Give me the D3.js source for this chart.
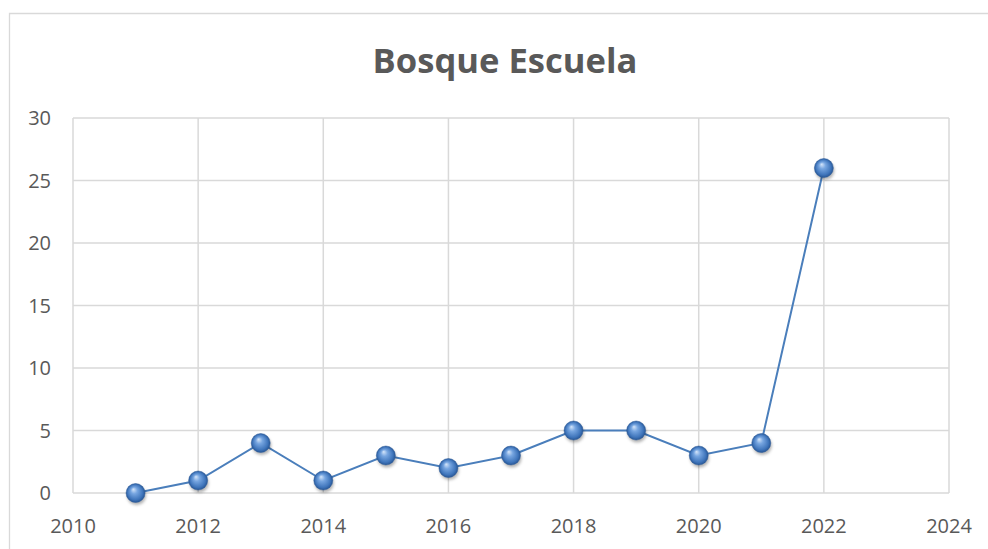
<!DOCTYPE html>
<html>
<head>
<meta charset="utf-8">
<script src="https://cdn.jsdelivr.net/npm/d3@7"></script>
<style>
  html, body { margin: 0; padding: 0; background: #fff; }
  svg { display: block; }
</style>
</head>
<body>
<div id="chart"></div>
<script>
// values
const years = [2011, 2012, 2013, 2014, 2015, 2016, 2017, 2018, 2019, 2020, 2021, 2022];
const counts = [0, 1, 4, 1, 3, 2, 3, 5, 5, 3, 4, 26];
const xTicks = [2010, 2012, 2014, 2016, 2018, 2020, 2022, 2024];
const yTicks = [0, 5, 10, 15, 20, 25, 30];
const title = 'Bosque Escuela';

const width = 988, height = 549;
const margin = { top: 118, right: 39, bottom: 56, left: 73 };
const innerWidth = width - margin.left - margin.right;
const innerHeight = height - margin.top - margin.bottom;

const data = years.map((y, i) => ({ year: y, value: counts[i] }));

const svg = d3.select('#chart')
	.append('svg')
	.attr('width', width)
	.attr('height', height);

// outer chart frame (only top and left edges are inside the window)
svg.append('path')
	.attr('d', 'M9.5,' + height + 'V13.5H' + width)
	.attr('fill', 'none')
	.attr('stroke', '#d9d9d9')
	.attr('stroke-width', 1.3);

const defs = svg.append('defs');
const grad = defs.append('radialGradient')
	.attr('id', 'ball')
	.attr('cx', '50%').attr('cy', '50%').attr('r', '50%')
	.attr('fx', '38%').attr('fy', '30%');
grad.append('stop').attr('offset', '0%').attr('stop-color', '#d6e6fa');
grad.append('stop').attr('offset', '35%').attr('stop-color', '#76a5e0');
grad.append('stop').attr('offset', '80%').attr('stop-color', '#3f75bb');
grad.append('stop').attr('offset', '100%').attr('stop-color', '#285694');

const shadow = defs.append('filter').attr('id', 'shadow')
	.attr('x', '-50%').attr('y', '-50%').attr('width', '200%').attr('height', '200%');
shadow.append('feGaussianBlur').attr('stdDeviation', 1.6);

svg.append('text')
	.attr('x', 505)
	.attr('y', 73)
	.attr('text-anchor', 'middle')
	.attr('font-family', 'Open Sans, sans-serif')
	.attr('font-weight', 'bold')
	.attr('font-size', 34.6)
	.attr('fill', '#595959')
	.text(title);

const g = svg.append('g')
	.attr('transform', 'translate(' + margin.left + ',' + margin.top + ')');

const x = d3.scaleLinear().domain([2010, 2024]).range([0, innerWidth]);
const y = d3.scaleLinear().domain([0, 30]).range([innerHeight, 0]);

// grid
g.append('g')
	.selectAll('line')
	.data(xTicks)
	.enter()
	.append('line')
	.attr('x1', d => x(d)).attr('x2', d => x(d))
	.attr('y1', 0).attr('y2', innerHeight)
	.attr('stroke', '#d9d9d9')
	.attr('stroke-width', 1.5);

g.append('g')
	.selectAll('line')
	.data(yTicks)
	.enter()
	.append('line')
	.attr('x1', 0).attr('x2', innerWidth)
	.attr('y1', d => y(d)).attr('y2', d => y(d))
	.attr('stroke', '#d9d9d9')
	.attr('stroke-width', 1.5);

// tick labels
g.append('g')
	.selectAll('text')
	.data(xTicks)
	.enter()
	.append('text')
	.attr('x', d => x(d))
	.attr('y', innerHeight + 40)
	.attr('text-anchor', 'middle')
	.attr('font-family', 'Open Sans, sans-serif')
	.attr('font-size', 20)
	.attr('fill', '#595959')
	.text(d => d);

g.append('g')
	.selectAll('text')
	.data(yTicks)
	.enter()
	.append('text')
	.attr('x', -22)
	.attr('y', d => y(d) + 7)
	.attr('text-anchor', 'end')
	.attr('font-family', 'Open Sans, sans-serif')
	.attr('font-size', 20)
	.attr('fill', '#595959')
	.text(d => d);

// series line
const line = d3.line()
	.x(d => x(d.year))
	.y(d => y(d.value));

g.append('path')
	.datum(data)
	.attr('fill', 'none')
	.attr('stroke', '#4a7ebb')
	.attr('stroke-width', 2)
	.attr('d', line);

// marker shadows
g.selectAll('.shadow')
	.data(data)
	.enter()
	.append('circle')
	.attr('class', 'shadow')
	.attr('cx', d => x(d.year) + 1)
	.attr('cy', d => y(d.value) + 2.5)
	.attr('r', 9.5)
	.attr('fill', 'rgba(0,0,0,0.3)')
	.attr('filter', 'url(#shadow)');

g.selectAll('.dot')
	.data(data)
	.enter()
	.append('circle')
	.attr('class', 'dot')
	.attr('cx', d => x(d.year))
	.attr('cy', d => y(d.value))
	.attr('r', 9.5)
	.attr('fill', 'url(#ball)')
	.attr('stroke', '#2f5f9e')
	.attr('stroke-width', 0.5);
</script>
</body>
</html>
